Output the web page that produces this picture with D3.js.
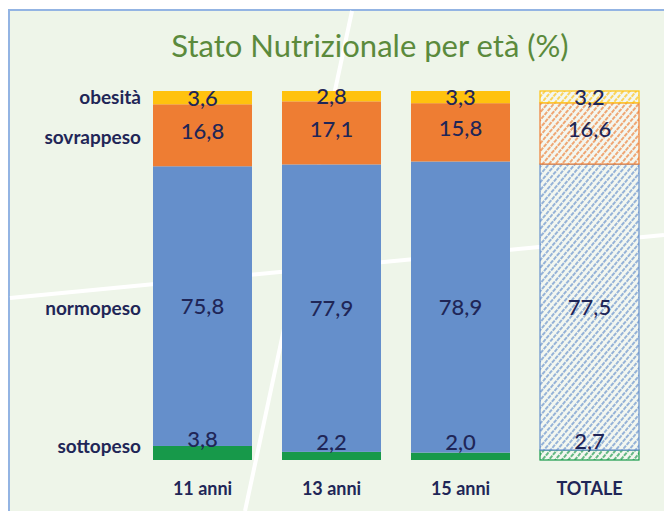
<!DOCTYPE html>
<html>
<head>
<meta charset="utf-8">
<script src="https://cdn.jsdelivr.net/npm/d3@7"></script>
<style>
  body { margin: 0; background: #ffffff; }
</style>
</head>
<body>
<script>
var svgWidth = 664;
var svgHeight = 511;

// data
var categories = ["11 anni", "13 anni", "15 anni", "TOTALE"];
var seriesNames = ["sottopeso", "normopeso", "sovrappeso", "obesità"];
var sottopeso = [3.8, 2.2, 2.0, 2.7];
var normopeso = [75.8, 77.9, 78.9, 77.5];
var sovrappeso = [16.8, 17.1, 15.8, 16.6];
var obesita = [3.6, 2.8, 3.3, 3.2];

var colors = {
    "sottopeso": "#17994a",
    "normopeso": "#658fcb",
    "sovrappeso": "#ee7d33",
    "obesità": "#ffc20e"
};

var rows = categories.map(function (c, i) {
    return {
        cat: c,
        "sottopeso": sottopeso[i],
        "normopeso": normopeso[i],
        "sovrappeso": sovrappeso[i],
        "obesità": obesita[i]
    };
});
var stacked = d3.stack().keys(seriesNames)(rows);

var svg = d3.select("body")
    .append("svg")
    .attr("width", svgWidth)
    .attr("height", svgHeight);

// panel
svg.append("rect")
    .attr("x", 9).attr("y", 10)
    .attr("width", svgWidth).attr("height", svgHeight)
    .attr("fill", "#eef5e9")
    .attr("stroke", "#93b4e3")
    .attr("stroke-width", 2);

// decorative white lines
svg.append("line")
    .attr("x1", 352).attr("y1", 11).attr("x2", 245).attr("y2", 511)
    .attr("stroke", "#ffffff").attr("stroke-width", 4);
svg.append("line")
    .attr("x1", 10).attr("y1", 298).attr("x2", 664).attr("y2", 235)
    .attr("stroke", "#ffffff").attr("stroke-width", 4);

// hatch patterns for the total
var defs = svg.append("defs");
seriesNames.forEach(function (k, i) {
    var p = defs.append("pattern")
        .attr("id", "hatch" + i)
        .attr("patternUnits", "userSpaceOnUse")
        .attr("width", 5).attr("height", 5)
        .attr("patternTransform", "rotate(40)");
    p.append("rect").attr("width", 5).attr("height", 5).attr("fill", "#f3f7f0");
    p.append("line")
        .attr("x1", 1).attr("y1", 0).attr("x2", 1).attr("y2", 5)
        .attr("stroke", colors[k])
        .attr("stroke-width", 1.3)
        .attr("stroke-dasharray", "3,1");
});

var x = d3.scaleBand()
    .domain(categories)
    .range([138, 654])
    .paddingInner(0.2326)
    .paddingOuter(0.1163);

var y = d3.scaleLinear()
    .domain([0, 100])
    .range([460, 91]);

// title
svg.append("text")
    .text("Stato Nutrizionale per età (%)")
    .attr("x", 370)
    .attr("y", 57)
    .attr("text-anchor", "middle")
    .attr("font-family", "Lato, sans-serif")
    .attr("font-size", "31px")
    .attr("fill", "#5b8a3c");

var groups = svg.selectAll("g.series")
    .data(stacked)
    .enter()
    .append("g")
    .attr("class", "series");

groups.selectAll("rect")
    .data(function (s, si) {
        return s.map(function (d) { return { d: d, key: s.key, si: si }; });
    })
    .enter()
    .append("rect")
    .attr("x", function (o) { return x(o.d.data.cat); })
    .attr("y", function (o) { return y(o.d[1]); })
    .attr("width", x.bandwidth())
    .attr("height", function (o) { return y(o.d[0]) - y(o.d[1]); })
    .attr("fill", function (o) {
        return o.d.data.cat === "TOTALE" ? "url(#hatch" + o.si + ")" : colors[o.key];
    })
    .attr("stroke", function (o) {
        return o.d.data.cat === "TOTALE" ? colors[o.key] : "none";
    })
    .attr("stroke-width", 1.2);

// value labels (drawn on top of all the bars)
var labelShift = { "sottopeso": -14, "normopeso": 0, "sovrappeso": -4, "obesità": 0 };
var labelLayer = svg.append("g");
stacked.forEach(function (s) {
    labelLayer.selectAll(null)
        .data(s)
        .enter()
        .append("text")
        .text(function (d) { return d3.format(".1f")(d[1] - d[0]).replace(".", ","); })
        .attr("x", function (d) { return x(d.data.cat) + x.bandwidth() / 2; })
        .attr("y", function (d) {
            return (y(d[0]) + y(d[1])) / 2 + labelShift[s.key];
        })
        .attr("dy", "0.36em")
        .attr("text-anchor", "middle")
        .attr("font-family", "Lato, sans-serif")
        .attr("font-weight", 500)
        .attr("font-size", "22px")
        .attr("fill", "#1f2657");
});

// series names on the left, next to the first bar
var nameShift = { "sottopeso": -7, "normopeso": 2, "sovrappeso": 2, "obesità": 0 };
svg.selectAll("text.sname")
    .data(stacked)
    .enter()
    .append("text")
    .attr("class", "sname")
    .text(function (s) { return s.key; })
    .attr("x", 141)
    .attr("y", function (s) {
        var d = s[0];
        return (y(d[0]) + y(d[1])) / 2 + nameShift[s.key];
    })
    .attr("dy", "0.36em")
    .attr("text-anchor", "end")
    .attr("font-family", "Lato, sans-serif")
    .attr("font-weight", "bold")
    .attr("font-size", "19px")
    .attr("fill", "#1f2657");

// category axis
var xAxis = svg.append("g")
    .attr("transform", "translate(0,470)")
    .call(d3.axisBottom(x).tickSize(0).tickPadding(12));
xAxis.select(".domain").remove();
xAxis.selectAll("text")
    .attr("font-family", "Lato, sans-serif")
    .attr("font-weight", "bold")
    .attr("font-size", "18px")
    .attr("fill", "#1f2657");
</script>
</body>
</html>
